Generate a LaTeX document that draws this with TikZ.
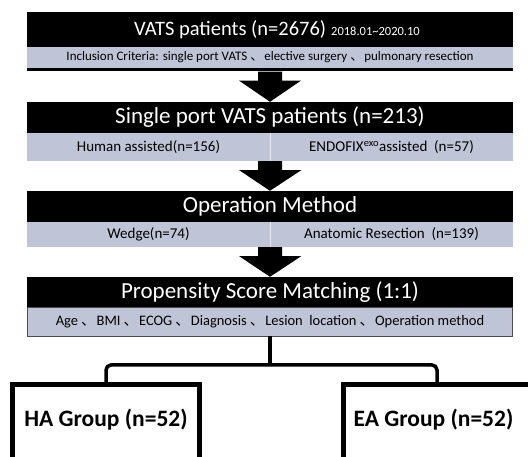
\documentclass[tikz,border=0pt]{standalone}
\usepackage{fontspec}
\setmainfont{Carlito}
\newfontfamily\cjk{Noto Sans CJK SC}
\usetikzlibrary{calc}
\definecolor{rowgray}{RGB}{192,196,215}
\def\dun{\hspace{3pt}{\cjk 、}\hspace{1pt}}
\def\blockarrow(#1)(#2){\fill ($(#1)+(-12,0)$) -- ($(#1)+(12,0)$) -- ($(#1)+(12,9)$) -- ($(#1)+(31,9)$) -- (#2) -- ($(#1)+(-31,9)$) -- ($(#1)+(-12,9)$) -- cycle;}

\begin{document}
\begin{tikzpicture}[x=1pt, y=-1pt,
		hdr/.style={fill=black, text=white, inner sep=0pt, minimum width=486pt, font=\fontsize{23}{27}\selectfont},
		rowbox/.style={fill=rowgray, inner sep=0pt, minimum width=486pt, font=\fontsize{14.5}{17}\selectfont},
		halfbox/.style={rowbox, minimum width=243pt, font=\fontsize{15}{18}\selectfont},
		grpbox/.style={draw, line width=5pt, minimum width=187pt, minimum height=95pt},
		grptext/.style={font=\bfseries\fontsize{23.5}{28}\selectfont},
		link/.style={line width=3.5pt, rounded corners=5pt}]
			%%%%% START %%%%%
			
			\path[use as bounding box] (0,0) rectangle (528,457);
			\clip (0,0) rectangle (528,457);
			\fill[white] (0,0) rectangle (528,457);
			
			\node[hdr, minimum height=35pt, font=\fontsize{20.5}{24}\selectfont] (vats) at (270,29.5) {\hspace*{14pt}VATS patients (n=2676)\hspace{5pt}{\fontsize{12.5}{15}\selectfont 2018.01\textasciitilde2020.10}};
			\node[rowbox, minimum height=21pt, font=\fontsize{13}{15}\selectfont] (incl) at (270,57.5) {Inclusion Criteria: single port VATS\dun elective surgery\dun pulmonary resection};
			\node[fill=black, inner sep=0pt, minimum width=486pt, minimum height=3pt, anchor=north] (inclbar) at (incl.south) {};
			
			\node[hdr, minimum height=31pt] (sport) at (270,117.5) {Single port VATS patients (n=213)};
			\node[halfbox, minimum height=28pt] (human) at (148.5,147) {Human assisted(n=156)};
			\node[halfbox, minimum height=28pt] (endo) at (391.5,147) {ENDOFIX\textsuperscript{exo}assisted\ \ (n=57)};
			\draw[white!60!rowgray, line width=0.8pt] (human.north east) -- (human.south east);
			
			\node[hdr, minimum height=31pt] (opm) at (270,206.5) {Operation Method};
			\node[halfbox, minimum height=25pt] (wedge) at (148.5,234.5) {Wedge(n=74)};
			\node[halfbox, minimum height=25pt] (anat) at (391.5,234.5) {Anatomic Resection\ \ (n=139)};
			\draw[white!60!rowgray, line width=0.8pt] (wedge.north east) -- (wedge.south east);
			
			\node[hdr, minimum height=30pt] (psm) at (270,292) {Propensity Score Matching (1:1)};
			\node[rowbox, draw=black!70, line width=0.8pt, minimum height=29pt, minimum width=485pt] (covar) at (270,321.5) {Age\dun BMI\dun ECOG\dun Diagnosis\dun Lesion\ \ location\dun Operation method};
			
			\blockarrow(inclbar.south)(sport.north)
			\blockarrow(human.south east)(opm.north)
			\blockarrow(wedge.south east)(psm.north)
			
			\node[grpbox] (hagrp) at (106,432) {};
			\node[grpbox] (eagrp) at (437,432) {};
			\node[grptext] (halbl) at (106,420) {HA Group (n=52)};
			\node[grptext] (ealbl) at (433.5,420) {EA Group (n=52)};
			
			\coordinate (split) at (270,365);
			\draw[link] (covar.south) -- (split);
			\draw[link] (hagrp.north) |- (split) -| (eagrp.north);
			
			%%%%% END %%%%%
\end{tikzpicture}
\end{document}
